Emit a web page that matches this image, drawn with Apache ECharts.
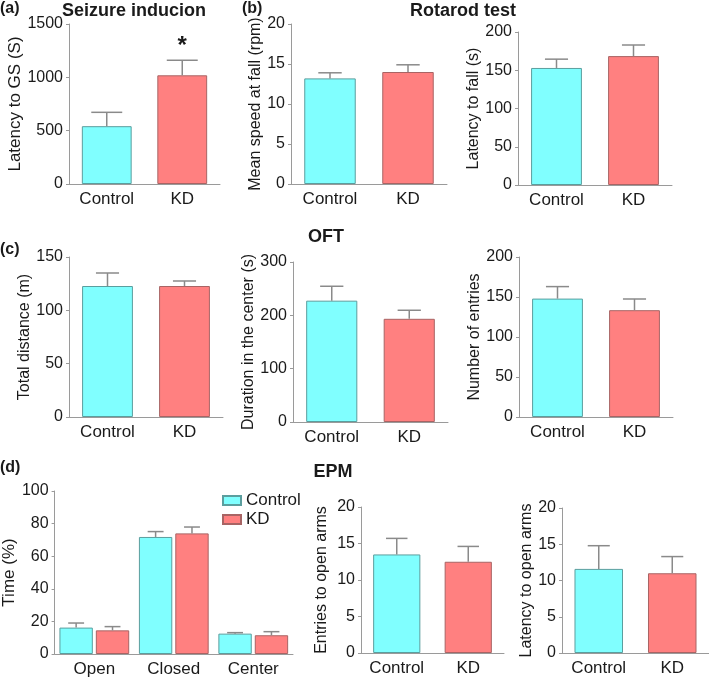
<!DOCTYPE html>
<html>
<head>
<meta charset="utf-8">
<script src="https://cdn.jsdelivr.net/npm/echarts@6/dist/echarts.min.js"></script>
<style>html,body{margin:0;padding:0;background:#fff;}#c{width:709px;height:678px;}</style>
</head>
<body>
<div id="c"></div>
<script>
// ---- data ----
const groups = ['Control', 'KD'];
const seizureMean = [542, 1019];
const seizureSem = [130, 141];
const seizureSig = ['', '*'];
const speedMean = [13.2, 14.0];
const speedSem = [0.7, 0.9];
const fallMean = [153, 168.5];
const fallSem = [11.5, 14.5];
const distMean = [122.8, 122.8];
const distSem = [12.2, 4.7];
const centerMean = [227.5, 193.5];
const centerSem = [27, 16];
const entriesMean = [148, 133.5];
const entriesSem = [15, 14];
const armCats = ['Open', 'Closed', 'Center'];
const timeControlMean = [16.2, 71.8, 12.5];
const timeControlSem = [2.8, 3.3, 0.6];
const timeKDMean = [14.5, 74.0, 11.5];
const timeKDSem = [2.3, 3.9, 2.2];
const openEntriesMean = [13.5, 12.5];
const openEntriesSem = [2.2, 2.1];
const openLatencyMean = [11.6, 11.0];
const openLatencySem = [3.2, 2.3];

const FONT = 'Liberation Sans, Arial, sans-serif';
const TXT = '#1a1a1a';
const AX = '#9a9a9a';
const CYAN = '#80ffff', CYAN_B = '#5b9e9e';
const RED = '#ff8080', RED_B = '#a86464';
const ERR = '#8a8a8a';

// panels: grid geometry + axis setup
const panels = [
  {g: [69, 24, 151, 160], name: 'Latency to GS (S)', nfs: 17, max: 1500, iv: 500, gap: 45, mean: seizureMean, sem: seizureSem, sig: seizureSig, cap: 0.41},
  {g: [291, 24, 156, 160], name: 'Mean speed at fall (rpm)', nfs: 16, max: 20, iv: 5, gap: 27, mean: speedMean, sem: speedSem, cap: 0.3},
  {g: [518, 32, 154, 153], name: 'Latency to fall (s)', nfs: 16, max: 200, iv: 50, gap: 35, mean: fallMean, sem: fallSem, cap: 0.3},
  {g: [69, 257, 154, 160], name: 'Total distance (m)', nfs: 16, max: 150, iv: 50, gap: 34, mean: distMean, sem: distSem, cap: 0.3},
  {g: [293, 262, 155, 160], name: 'Duration in the center (s)', nfs: 16, max: 300, iv: 100, gap: 30, mean: centerMean, sem: centerSem, cap: 0.3},
  {g: [519, 257, 154, 160], name: 'Number of entries', nfs: 16, max: 200, iv: 50, gap: 36, mean: entriesMean, sem: entriesSem, cap: 0.3},
  {g: [49, 491, 244, 163], name: 'Time (%)', nfs: 17, max: 100, iv: 20, gap: 34, cats: armCats, cap: 0.2},
  {g: [361, 507, 143, 146], name: 'Entries to open arms', nfs: 16, max: 20, iv: 5, gap: 31, mean: openEntriesMean, sem: openEntriesSem, cap: 0.3},
  {g: [562, 508, 147, 145], name: 'Latency to open arms', nfs: 16, max: 20, iv: 5, gap: 21, mean: openLatencyMean, sem: openLatencySem, cap: 0.3}
];

function errRender(offsetFrac, capFrac, sigArr) {
  return function (params, api) {
    const x = api.value(0), m = api.value(1), s = api.value(2);
    const p0 = api.coord([x, m]);
    const p1 = api.coord([x, m + s]);
    const band = api.size([1, 0])[0];
    const cx = p0[0] + offsetFrac * band;
    const half = capFrac * band / 2;
    const st = {stroke: ERR, lineWidth: 1.5};
    const children = [
      {type: 'line', shape: {x1: cx, y1: p0[1], x2: cx, y2: p1[1]}, style: st},
      {type: 'line', shape: {x1: cx - half, y1: p1[1], x2: cx + half, y2: p1[1]}, style: st}
    ];
    if (sigArr && sigArr[params.dataIndex]) {
      children.push({type: 'text', x: cx, y: p1[1] - 2, style: {text: sigArr[params.dataIndex], fill: TXT, font: 'bold 24px ' + FONT, align: 'center', verticalAlign: 'bottom'}});
    }
    return {type: 'group', children: children};
  };
}

const grid = [], xAxis = [], yAxis = [], series = [];
panels.forEach((p, i) => {
  grid.push({left: p.g[0], top: p.g[1], width: p.g[2], height: p.g[3], containLabel: false});
  xAxis.push({
    type: 'category', gridIndex: i, data: p.cats || groups,
    axisLine: {lineStyle: {color: AX, width: 1}}, axisTick: {show: false},
    axisLabel: {color: TXT, fontSize: 17, fontFamily: FONT, margin: 7}
  });
  yAxis.push({
    type: 'value', gridIndex: i, min: 0, max: p.max, interval: p.iv,
    name: p.name, nameLocation: 'middle', nameGap: p.gap,
    nameTextStyle: {color: TXT, fontSize: p.nfs, fontFamily: FONT},
    axisLine: {show: true, lineStyle: {color: AX, width: 1}},
    axisTick: {show: true, length: 3, lineStyle: {color: AX}},
    splitLine: {show: false},
    axisLabel: {color: TXT, fontSize: 16, fontFamily: FONT, margin: 6, formatter: (v) => String(v)}
  });
  if (!p.cats) {
    series.push({
      type: 'bar', xAxisIndex: i, yAxisIndex: i, barWidth: '66%',
      data: p.mean.map((v, k) => ({value: v, itemStyle: {color: k === 0 ? CYAN : RED, borderColor: k === 0 ? CYAN_B : RED_B, borderWidth: 1}})),
      silent: true, animation: false
    });
    series.push({
      type: 'custom', xAxisIndex: i, yAxisIndex: i,
      renderItem: errRender(0, p.cap, p.sig),
      data: p.mean.map((v, k) => [k, v, p.sem[k]]),
      encode: {x: 0, y: 1}, silent: true, animation: false, z: 3
    });
  } else {
    series.push({
      name: 'Control', type: 'bar', xAxisIndex: i, yAxisIndex: i, barWidth: '42%', barGap: '9%',
      itemStyle: {color: CYAN, borderColor: CYAN_B, borderWidth: 1},
      data: timeControlMean, silent: true, animation: false
    });
    series.push({
      name: 'KD', type: 'bar', xAxisIndex: i, yAxisIndex: i, barWidth: '42%', barGap: '9%',
      itemStyle: {color: RED, borderColor: RED_B, borderWidth: 1},
      data: timeKDMean, silent: true, animation: false
    });
    const off = (0.42 + 0.42 * 0.09) / 2;
    series.push({
      type: 'custom', xAxisIndex: i, yAxisIndex: i, renderItem: errRender(-off, p.cap),
      data: timeControlMean.map((v, k) => [k, v, timeControlSem[k]]),
      encode: {x: 0, y: 1}, silent: true, animation: false, z: 3
    });
    series.push({
      type: 'custom', xAxisIndex: i, yAxisIndex: i, renderItem: errRender(off, p.cap),
      data: timeKDMean.map((v, k) => [k, v, timeKDSem[k]]),
      encode: {x: 0, y: 1}, silent: true, animation: false, z: 3
    });
  }
});

const tBold = (size) => ({color: TXT, fontSize: size, fontWeight: 'bold', fontFamily: FONT});
const option = {
  backgroundColor: '#fff',
  animation: false,
  title: [
    {text: '(a)', left: 0, top: 1, padding: 0, textStyle: tBold(16)},
    {text: 'Seizure inducion', left: 134, top: 2, textAlign: 'center', padding: 0, textStyle: tBold(18)},
    {text: '(b)', left: 242, top: 1, padding: 0, textStyle: tBold(16)},
    {text: 'Rotarod test', left: 463, top: 2, textAlign: 'center', padding: 0, textStyle: tBold(18)},
    {text: '(c)', left: 0, top: 242, padding: 0, textStyle: tBold(16)},
    {text: 'OFT', left: 326, top: 228, textAlign: 'center', padding: 0, textStyle: tBold(18)},
    {text: '(d)', left: 0, top: 460, padding: 0, textStyle: tBold(16)},
    {text: 'EPM', left: 333, top: 463, textAlign: 'center', padding: 0, textStyle: tBold(18)}
  ],
  legend: {
    data: ['Control', 'KD'], orient: 'vertical', left: 222, top: 492, padding: 0,
    itemWidth: 18, itemHeight: 9, itemGap: 2, selectedMode: false,
    textStyle: {color: TXT, fontSize: 17, fontFamily: FONT, padding: [0, 0, 0, 0]},
    icon: 'rect'
  },
  grid: grid, xAxis: xAxis, yAxis: yAxis, series: series
};
const chart = echarts.init(document.getElementById('c'), null, {renderer: 'canvas'});
chart.setOption(option);
</script>
</body>
</html>
